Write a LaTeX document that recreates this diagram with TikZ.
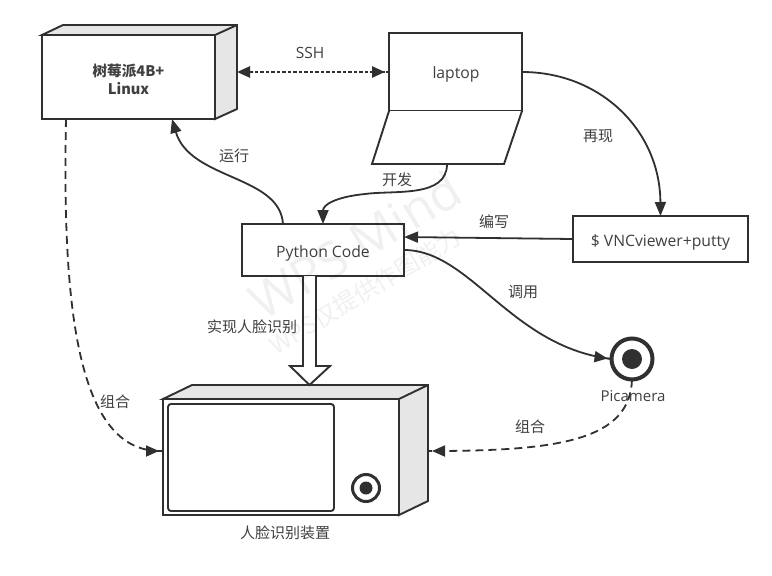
\documentclass[tikz,border=0pt]{standalone}
\usepackage{fontspec}
\setmainfont{Open Sans}
\newfontfamily\cjk{Noto Sans CJK SC}
\usetikzlibrary{arrows.meta}
\definecolor{ink}{HTML}{303030}
\definecolor{txt}{HTML}{404040}
\definecolor{side}{HTML}{E6E6E6}
\tikzset{
  ln/.style={draw=ink,line width=1.9pt,line join=miter},
  frontbox/.style={ln,fill=white,inner sep=0pt,outer sep=0pt,align=center,text=txt,font=\fontsize{15.7}{18}\selectfont},
  sidebox/.style={ln,fill=side},
  lab/.style={text=txt,inner sep=0pt,font=\cjk\fontsize{15}{17}\selectfont},
  latlab/.style={text=txt,inner sep=0pt,font=\fontsize{15.5}{17}\selectfont},
  tipA/.style={-{Triangle[length=14pt,width=11pt]}},
  tipB/.style={-{Triangle[length=13pt,width=11pt] Rectangle[length=4pt,width=2pt]}},
  conn/.style={draw=ink,line width=1.8pt},
  dashc/.style={conn,dash pattern=on 8pt off 5pt},
  dotc/.style={draw=ink,line width=2.6pt,dash pattern=on 3.5pt off 2pt},
  wm/.style={rotate=31,text=black,opacity=.06,inner sep=0pt},
}
\newcommand{\lowered}[2]{\raisebox{#1}[0pt][0pt]{#2}}
\begin{document}
\begin{tikzpicture}[x=1pt,y=-1pt]
\useasboundingbox (0,0) rectangle (772,576);
\fill[white] (0,0) rectangle (772,576);
% raspberry
\draw[sidebox] (42,35) -- (63,25) -- (237,25) -- (237,109) -- (215,119) -- (215,35) -- cycle;
\draw[ln] (215,35) -- (237,25);
\node[frontbox,minimum width=173pt,minimum height=84pt,font=\cjk\bfseries\fontsize{14.6}{18}\selectfont] (rasp) at (128.5,77) {\rule{0pt}{17pt}树莓派4B+\\Linux};
% laptop
\node[frontbox,minimum width=133pt,minimum height=78pt] (laptop) at (455.5,72) {\lowered{-6.5pt}{\hspace{1pt}laptop}};
\draw[ln,fill=white] (laptop.south west) -- (372,164) -- (504,164) -- (laptop.south east);
% VNC
\node[frontbox,minimum width=175pt,minimum height=46pt] (vnc) at (660.5,239) {\lowered{-7pt}{\$ VNCviewer+putty}};
% python
\node[frontbox,minimum width=162pt,minimum height=52pt] (py) at (323,250) {\lowered{-7pt}{Python Code}};
% device
\draw[sidebox] (163,399) -- (192,385) -- (428,385) -- (428,501) -- (399,515) -- (399,399) -- cycle;
\draw[ln] (399,399) -- (428,385);
\node[frontbox,minimum width=236pt,minimum height=116pt] (dev) at (281,457) {};
\node[ln,fill=white,rounded corners=3pt,minimum width=166pt,minimum height=107pt,inner sep=0pt,outer sep=0pt] (screen) at (251,457.5) {};
\node[circle,draw=ink,line width=3pt,fill=white,minimum size=27pt,inner sep=0pt,outer sep=0pt] (lens) at (366,488) {};
\fill[ink] (lens.center) circle (6.5);
% picamera
\node[circle,draw=ink,line width=4pt,fill=white,minimum size=41pt,inner sep=0pt,outer sep=0pt] (cam) at (632,359) {};
\fill[ink] (cam.center) circle (10);
% connector end points
\coordinate (raspright) at (237,72);
\coordinate (devleft) at (163,451);
\coordinate (devright) at (428,451);
\coordinate (lapbase) at (447,164);
% big arrow
\draw[ln,fill=white] (303,276) -- (303,366) -- (290,366) -- (309.5,385) -- (330,366) -- (316,366) -- (316,276);
% connectors
\draw[dotc,{Triangle[length=13pt,width=11pt] Rectangle[length=4pt,width=2pt]}-{Triangle[length=13pt,width=11pt] Rectangle[length=4pt,width=2pt]}] (raspright) -- (laptop.west);
\draw[dashc,tipB] ([xshift=24pt]rasp.south west) .. controls (62,310) and (78,451) .. (devleft);
\draw[conn,tipA] ([xshift=41pt]py.north west) .. controls (280,175) and (190,180) .. ([xshift=130pt]rasp.south west);
\draw[conn,tipA] (lapbase) .. controls (447,198) and (395,190) .. (365,194) .. controls (335,197) and (323,205) .. (py.north);
\draw[conn,tipA] (laptop.east) .. controls (600,72) and (660,130) .. (vnc.north);
\draw[conn,tipA] (vnc.west) -- ([yshift=13pt]py.east);
\draw[conn,tipB] (py.east) .. controls (470,250) and (510,345) .. (cam.west);
\draw[dashc,tipB] (cam.south) .. controls (630,440) and (560,451) .. (devright);
% labels
\node[latlab] (lssh) at (310,53) {SSH};
\node[lab] (l1) at (598,136) {再现};
\node[lab] (l2) at (234,156) {运行};
\node[lab] (l3) at (397,180) {开发};
\node[lab] (l4) at (494,222) {编写};
\node[lab] (l5) at (523,292) {调用};
\node[lab] (l6) at (252,327) {实现人脸识别};
\node[lab] (l7) at (115,402) {组合};
\node[lab] (l8) at (530,427) {组合};
\node[lab] (l9) at (285,533) {人脸识别装置};
\node[text=txt,inner sep=0pt,font=\fontsize{15}{17}\selectfont] (lcam) at (633,396) {Picamera};
% watermark
\node[wm,font=\fontsize{50}{54}\selectfont] (wm1) at (355,245) {WPS Mind};
\node[wm,font=\cjk\fontsize{24}{27}\selectfont] (wm2) at (365,291) {WPS仅提供作图能力};
\end{tikzpicture}
\end{document}
